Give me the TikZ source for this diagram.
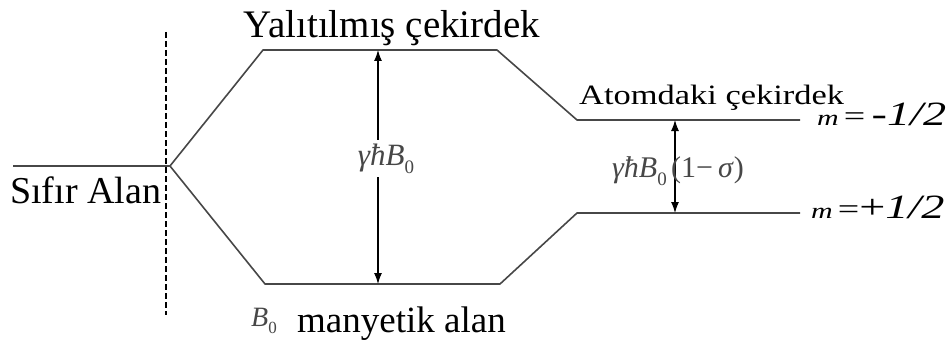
\documentclass[tikz,border=0pt]{standalone}
\usepackage{fontspec}
\setmainfont{Liberation Serif}
\usetikzlibrary{arrows.meta}
\newcommand{\sbz}[1]{\raisebox{-0.28em}{\fontsize{#1}{#1}\selectfont\upshape 0}}
\begin{document}
\begin{tikzpicture}[x=1pt,y=-1pt,
  level/.style={line width=1.6pt,draw=black!72,line join=round},
  gap/.style={line width=1.1pt,black,{Latex[length=11pt,width=8pt]}-{Latex[length=11pt,width=8pt]}},
  txt/.style={inner sep=0pt,anchor=base},
  mlab/.style={text=black!72}]
\useasboundingbox (0,0) rectangle (952,342);
% coordinates
\coordinate (z0) at (13,166);
\coordinate (s) at (170,166);
\coordinate (u1) at (263,50);
\coordinate (u2) at (497,50);
\coordinate (u3) at (577,120);
\coordinate (u4) at (800,120);
\coordinate (l1) at (265,284);
\coordinate (l2) at (500,284);
\coordinate (l3) at (577,213);
\coordinate (l4) at (800,213);
\coordinate (d1) at (166,32);
\coordinate (d2) at (166,315);
\coordinate (a1) at (378,50);
\coordinate (a2) at (378,284);
\coordinate (b1) at (675,120);
\coordinate (b2) at (675,213);
% dashed divider
\draw[line width=1.1pt,dash pattern=on 6pt off 3pt] (d1) -- (d2);
% levels
\draw[level] (z0) -- (s);
\draw[level] (s) -- (u1) -- (u2) -- (u3) -- (u4);
\draw[level] (s) -- (l1) -- (l2) -- (l3) -- (l4);
% arrows
\draw[gap] (a1) -- (a2);
\draw[gap] (b1) -- (b2);
% labels
\node[txt] (yal) at (392,38) {\fontsize{39}{41}\selectfont Yalıtılmış çekirdek};
\node[txt,anchor=base west] (sif) at (10,203) {\fontsize{38}{40}\selectfont Sıfır Alan};
\node[txt,anchor=base west] (man) at (297,332) {\fontsize{37}{40}\selectfont manyetik alan};
\node[txt,anchor=base west,mlab] (b0) at (251,326) {\fontsize{28}{30}\selectfont\itshape B\sbz{17}};
\node[txt,anchor=base west] (ato) at (579,105) {\scalebox{1.23}[1]{\fontsize{28}{30}\selectfont Atomdaki çekirdek}};
\node[txt,fill=white,inner sep=3pt,mlab] (g1) at (386,165) {\fontsize{31}{33}\selectfont\itshape γħB\sbz{19}};
\node[txt,anchor=base east,mlab] (g2a) at (667,177) {\fontsize{30}{32}\selectfont\itshape γħB\sbz{19}};
\node[txt,anchor=base west,mlab] (g2b) at (671,177) {\fontsize{30}{32}\selectfont (1−\,\textit{σ})};
\node[txt,anchor=base west] (mm) at (817,125) {\scalebox{1.36}[1]{{\fontsize{22}{24}\selectfont\itshape m\,}{\fontsize{28}{30}\selectfont =\,}{\fontsize{34}{36}\selectfont\itshape -1/2}}};
\node[txt,anchor=base west] (mp) at (811,218) {\scalebox{1.36}[1]{{\fontsize{22}{24}\selectfont\itshape m\,}{\fontsize{28}{30}\selectfont =}{\fontsize{34}{36}\selectfont +\itshape 1/2}}};
\end{tikzpicture}
\end{document}
